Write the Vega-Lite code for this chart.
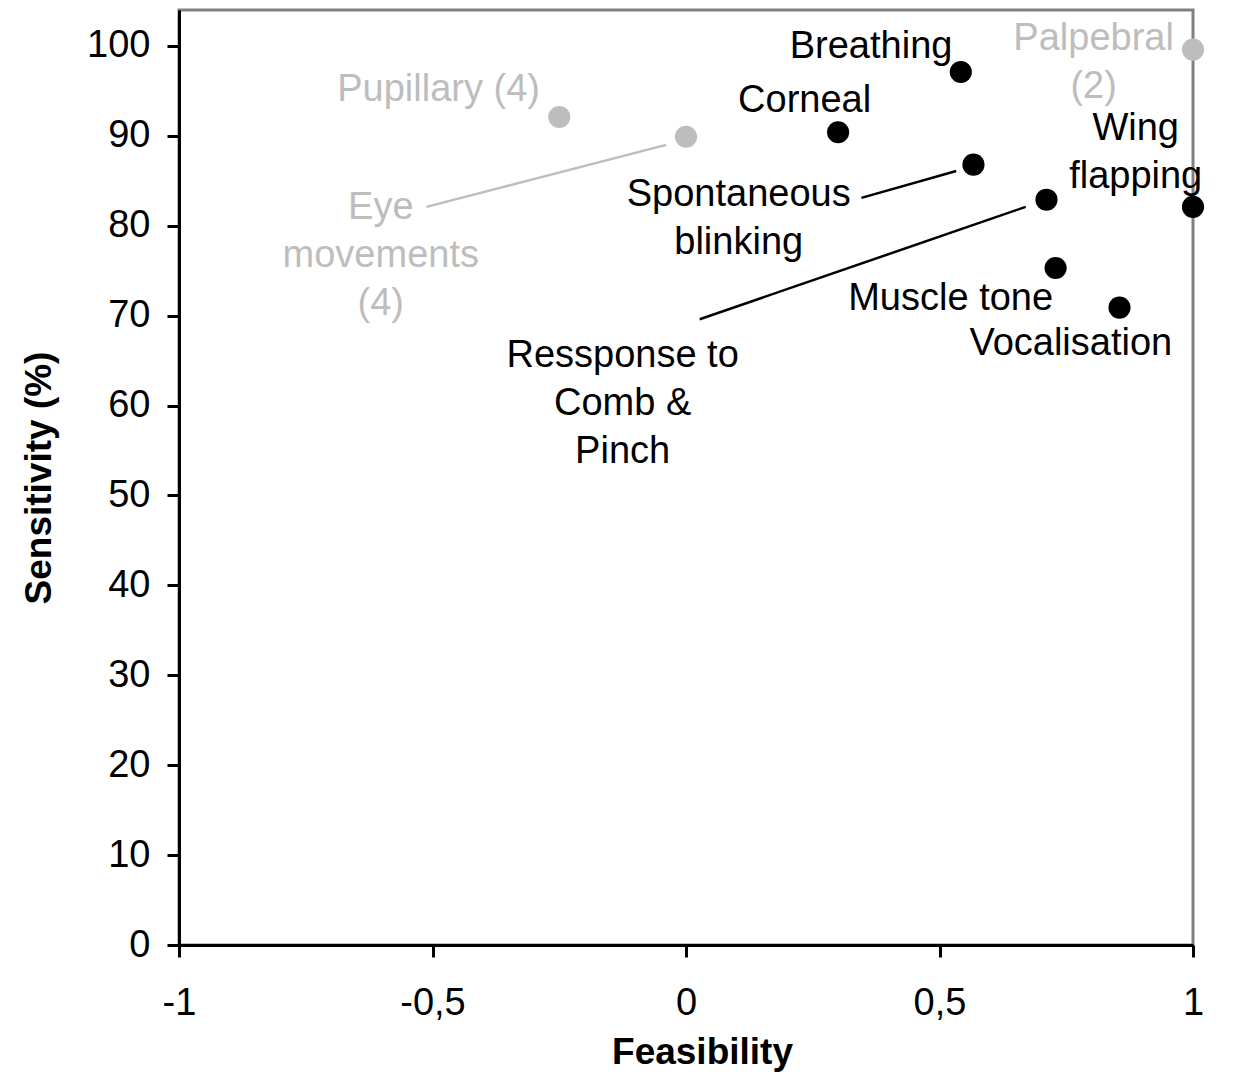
{
  "$schema": "https://vega.github.io/schema/vega-lite/v6.json",
  "width": 1014,
  "height": 935,
  "autosize": {"type": "none"},
  "padding": {"left": 179, "top": 10, "right": 42, "bottom": 136},
  "background": "white",
  "config": {
    "font": "Liberation Sans",
    "view": {"stroke": "#808080", "strokeWidth": 3}
  },
  "datasets": {
    "points": [
      {"test": "Pupillary", "feasibility": -0.25, "sensitivity": 92.1, "group": "excluded"},
      {"test": "Eye movements", "feasibility": 0, "sensitivity": 89.9, "group": "excluded"},
      {"test": "Palpebral", "feasibility": 1, "sensitivity": 99.6, "group": "excluded"},
      {"test": "Breathing", "feasibility": 0.542, "sensitivity": 97.1, "group": "included"},
      {"test": "Corneal", "feasibility": 0.3, "sensitivity": 90.4, "group": "included"},
      {"test": "Spontaneous blinking", "feasibility": 0.567, "sensitivity": 86.8, "group": "included"},
      {"test": "Response to comb & pinch", "feasibility": 0.711, "sensitivity": 82.9, "group": "included"},
      {"test": "Wing flapping", "feasibility": 1, "sensitivity": 82.1, "group": "included"},
      {"test": "Muscle tone", "feasibility": 0.729, "sensitivity": 75.3, "group": "included"},
      {"test": "Vocalisation", "feasibility": 0.855, "sensitivity": 70.9, "group": "included"}
    ],
    "labels": [
      {"label": ["Pupillary (4)"], "lx": -0.488, "ly": 95.1, "group": "excluded"},
      {"label": ["Eye", "movements", "(4)"], "lx": -0.602, "ly": 82.0, "group": "excluded"},
      {"label": ["Palpebral", "(2)"], "lx": 0.804, "ly": 100.8, "group": "excluded"},
      {"label": ["Breathing"], "lx": 0.365, "ly": 99.9, "group": "included"},
      {"label": ["Corneal"], "lx": 0.234, "ly": 93.9, "group": "included"},
      {"label": ["Spontaneous", "blinking"], "lx": 0.104, "ly": 83.4, "group": "included"},
      {"label": ["Wing", "flapping"], "lx": 0.887, "ly": 90.8, "group": "included"},
      {"label": ["Muscle tone"], "lx": 0.522, "ly": 71.9, "group": "included"},
      {"label": ["Vocalisation"], "lx": 0.759, "ly": 66.8, "group": "included"},
      {"label": ["Ressponse to", "Comb &", "Pinch"], "lx": -0.125, "ly": 65.5, "group": "included"}
    ],
    "leaders": [
      {"test": "Eye movements", "x1": -0.512, "y1": 82.1, "x2": -0.039, "y2": 89.0, "group": "excluded"},
      {"test": "Spontaneous blinking", "x1": 0.346, "y1": 83.1, "x2": 0.533, "y2": 86.1, "group": "included"},
      {"test": "Response to comb & pinch", "x1": 0.027, "y1": 69.6, "x2": 0.670, "y2": 82.1, "group": "included"}
    ]
  },
  "layer": [
    {
      "data": {"name": "leaders"},
      "mark": {"type": "rule", "strokeWidth": 2.5},
      "encoding": {
        "x": {"field": "x1", "type": "quantitative", "scale": {"domain": [-1, 1]},
          "axis": {"title": "Feasibility", "values": [-1, -0.5, 0, 0.5, 1], "labelExpr": "replace(toString(datum.value), '.', ',')", "grid": false, "domainColor": "black", "domainWidth": 3, "tickColor": "black", "tickWidth": 3, "tickSize": 12, "labelFontSize": 38, "labelColor": "black", "labelPadding": 27, "labelFlush": false, "labelOverlap": false, "titleFontSize": 37, "titleFontWeight": "bold", "titleColor": "black", "titlePadding": 12, "titleX": 523}},
        "y": {"field": "y1", "type": "quantitative", "scale": {"domain": [0, 104], "nice": false},
          "axis": {"title": "Sensitivity (%)", "values": [0, 10, 20, 30, 40, 50, 60, 70, 80, 90, 100], "grid": false, "domainColor": "black", "domainWidth": 3, "tickColor": "black", "tickWidth": 3, "tickSize": 12, "labelFontSize": 38, "labelColor": "black", "labelPadding": 17, "labelFlush": false, "labelOverlap": false, "titleFontSize": 37, "titleFontWeight": "bold", "titleColor": "black", "titlePadding": 28}},
        "x2": {"field": "x2"},
        "y2": {"field": "y2"},
        "color": {"field": "group", "type": "nominal", "scale": {"domain": ["included", "excluded"], "range": ["#000000", "#bdbdbd"]}, "legend": null}
      }
    },
    {
      "data": {"name": "points"},
      "mark": {"type": "circle", "size": 490, "opacity": 1},
      "encoding": {
        "x": {"field": "feasibility", "type": "quantitative", "scale": {"domain": [-1, 1]},
          "axis": {"title": "Feasibility", "values": [-1, -0.5, 0, 0.5, 1], "labelExpr": "replace(toString(datum.value), '.', ',')", "grid": false, "domainColor": "black", "domainWidth": 3, "tickColor": "black", "tickWidth": 3, "tickSize": 12, "labelFontSize": 38, "labelColor": "black", "labelPadding": 27, "labelFlush": false, "labelOverlap": false, "titleFontSize": 37, "titleFontWeight": "bold", "titleColor": "black", "titlePadding": 12, "titleX": 523}},
        "y": {"field": "sensitivity", "type": "quantitative", "scale": {"domain": [0, 104], "nice": false},
          "axis": {"title": "Sensitivity (%)", "values": [0, 10, 20, 30, 40, 50, 60, 70, 80, 90, 100], "grid": false, "domainColor": "black", "domainWidth": 3, "tickColor": "black", "tickWidth": 3, "tickSize": 12, "labelFontSize": 38, "labelColor": "black", "labelPadding": 17, "labelFlush": false, "labelOverlap": false, "titleFontSize": 37, "titleFontWeight": "bold", "titleColor": "black", "titlePadding": 28}},
        "color": {"field": "group", "type": "nominal", "scale": {"domain": ["included", "excluded"], "range": ["#000000", "#bdbdbd"]}, "legend": null}
      }
    },
    {
      "data": {"name": "labels"},
      "mark": {"type": "text", "fontSize": 38, "lineHeight": 48, "baseline": "middle", "align": "center"},
      "encoding": {
        "x": {"field": "lx", "type": "quantitative", "scale": {"domain": [-1, 1]},
          "axis": {"title": "Feasibility", "values": [-1, -0.5, 0, 0.5, 1], "labelExpr": "replace(toString(datum.value), '.', ',')", "grid": false, "domainColor": "black", "domainWidth": 3, "tickColor": "black", "tickWidth": 3, "tickSize": 12, "labelFontSize": 38, "labelColor": "black", "labelPadding": 27, "labelFlush": false, "labelOverlap": false, "titleFontSize": 37, "titleFontWeight": "bold", "titleColor": "black", "titlePadding": 12, "titleX": 523}},
        "y": {"field": "ly", "type": "quantitative", "scale": {"domain": [0, 104], "nice": false},
          "axis": {"title": "Sensitivity (%)", "values": [0, 10, 20, 30, 40, 50, 60, 70, 80, 90, 100], "grid": false, "domainColor": "black", "domainWidth": 3, "tickColor": "black", "tickWidth": 3, "tickSize": 12, "labelFontSize": 38, "labelColor": "black", "labelPadding": 17, "labelFlush": false, "labelOverlap": false, "titleFontSize": 37, "titleFontWeight": "bold", "titleColor": "black", "titlePadding": 28}},
        "text": {"field": "label"},
        "color": {"field": "group", "type": "nominal", "scale": {"domain": ["included", "excluded"], "range": ["#000000", "#bdbdbd"]}, "legend": null}
      }
    }
  ]
}
